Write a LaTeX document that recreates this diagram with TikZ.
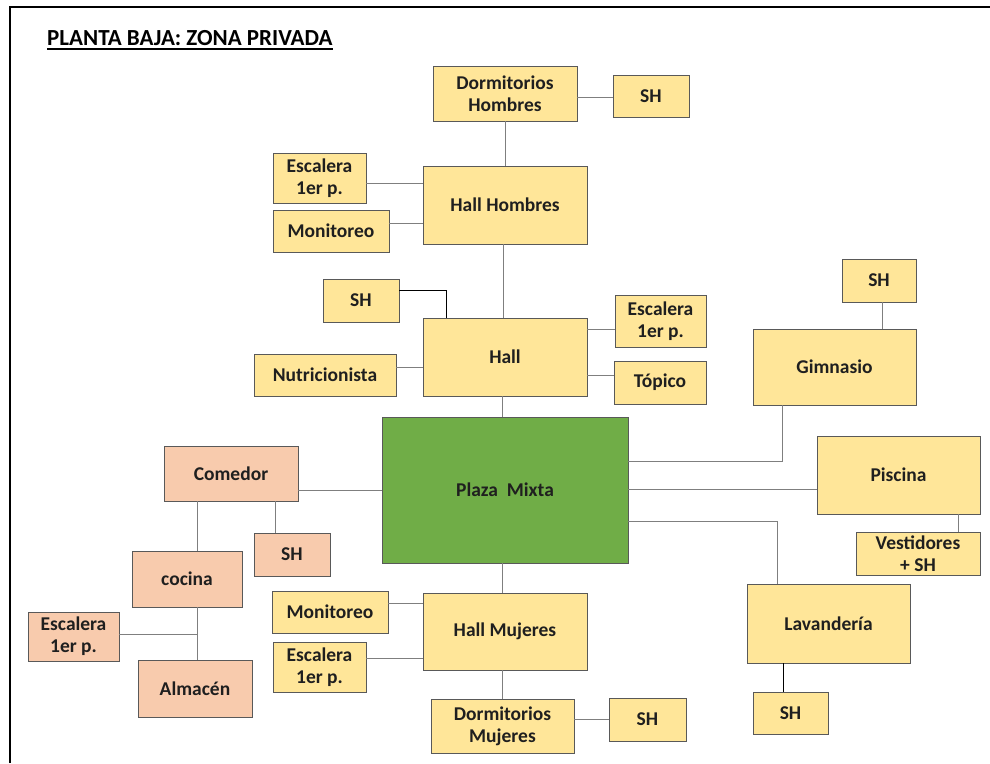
\documentclass[tikz,border=0pt]{standalone}
\usepackage{fontspec}
\setmainfont{Carlito}
\definecolor{boxY}{HTML}{FFE699}
\definecolor{boxS}{HTML}{F8CBAD}
\definecolor{boxG}{HTML}{70AD47}
\definecolor{lineC}{HTML}{7F7F7F}
\definecolor{edgeC}{HTML}{595959}
\definecolor{txtC}{HTML}{1F1F1F}
\tikzset{
  room/.style={draw=edgeC, line width=0.9pt, fill=boxY, inner sep=0pt, align=center,
     text=txtC, font=\fontsize{19.5}{22}\selectfont\bfseries},
  kitchen/.style={room, fill=boxS},
  plazabox/.style={room, fill=boxG},
  link/.style={draw=lineC, line width=1pt},
  darklink/.style={draw=black, line width=1pt},
  frameline/.style={draw=black, line width=2pt}
}
\newcommand{\roombox}[6]{% style, name, cx, cy, w, h ; text follows
  \node[#1, minimum width=#5pt, minimum height=#6pt] (#2) at (#3,#4)}
\begin{document}
\begin{tikzpicture}[x=1pt,y=-1pt]
\useasboundingbox (0,0) rectangle (990,763);
\fill[white] (0,0) rectangle (990,763);
% frame
\draw[frameline] (10,763) -- (10,7) -- (990,7);
% title
\node[anchor=base west, inner sep=0pt, text=black, font=\fontsize{23}{26}\selectfont\bfseries] (title) at (47,45) {PLANTA BAJA: ZONA PRIVADA};
\draw[line width=1.2pt] ([yshift=-4pt]title.base west) -- ([yshift=-4pt]title.base east);

% upper wing
\roombox{room}{dormH}{505}{93.5}{144}{55} {Dormitorios\\Hombres};
\roombox{room}{shH}{651}{96}{76}{42} {SH};
\roombox{room}{hallH}{505}{205}{164}{78} {Hall Hombres};
\roombox{room}{escH}{319.5}{178}{93}{50} {Escalera\\1er p.};
\roombox{room}{monH}{331}{231}{116}{42} {Monitoreo};
\roombox{room}{shHall}{361}{300.5}{76}{43} {SH};
\roombox{room}{hall}{505}{357}{164}{78} {Hall};
\roombox{room}{nutri}{325}{375}{142}{42} {Nutricionista};
\roombox{room}{escHall}{660.5}{321}{91}{52} {Escalera\\1er p.};
\roombox{room}{topico}{660}{382.5}{92}{43} {Tópico};
% plaza
\roombox{plazabox}{plaza}{505}{490}{246}{146} {Plaza\ \ Mixta};
% right wing
\roombox{room}{shGym}{879}{280.5}{74}{43} {SH};
\roombox{room}{gym}{834.5}{367}{163}{76} {Gimnasio};
\roombox{room}{piscina}{898.5}{475}{163}{78} {Piscina};
\roombox{room}{vest}{918}{553.5}{124}{43} {Vestidores\\+ SH};
\roombox{room}{lav}{828.5}{623.5}{163}{79} {Lavandería};
\roombox{room}{shLav}{790.5}{713}{75}{42} {SH};
% left wing (kitchen)
\roombox{kitchen}{comedor}{231}{473.5}{134}{55} {Comedor};
\roombox{kitchen}{shCom}{292}{554.5}{76}{43} {SH};
\roombox{kitchen}{cocina}{187}{579}{110}{56} {cocina};
\roombox{kitchen}{escC}{73.5}{636.5}{91}{49} {Escalera\\1er p.};
\roombox{kitchen}{almacen}{195}{688.5}{114}{57} {Almacén};
% lower wing
\roombox{room}{monM}{330}{612}{116}{42} {Monitoreo};
\roombox{room}{hallM}{505}{631.5}{164}{77} {Hall Mujeres};
\roombox{room}{escM}{319.5}{667}{93}{50} {Escalera\\1er p.};
\roombox{room}{dormM}{502.5}{726}{143}{54} {Dormitorios\\Mujeres};
\roombox{room}{shM}{647.5}{719.5}{77}{43} {SH};

% connectors
\coordinate (jGym) at (782,461);
\coordinate (jLav) at (777,521);
\coordinate (jShHall) at (446,290);
\coordinate (jKit) at (197,634);

\draw[link] (dormH.east |- 0,97) -- (shH.west |- 0,97);
\draw[link] (dormH.south) -- (hallH.north);
\draw[link] (escH.east |- 0,183) -- (hallH.west |- 0,183);
\draw[link] (monH.east |- 0,223) -- (hallH.west |- 0,223);
\draw[link] (hallH.south -| 503,0) -- (hall.north -| 503,0);
\draw[darklink] (shHall.east |- jShHall) -- (jShHall) -- (hall.north -| jShHall);
\draw[link] (nutri.east |- 0,367) -- (hall.west |- 0,367);
\draw[link] (hall.east |- 0,329) -- (escHall.west |- 0,329);
\draw[link] (hall.east |- 0,375) -- (topico.west |- 0,375);
\draw[link] (hall.south -| 502,0) -- (plaza.north -| 502,0);

\draw[link] (shGym.south -| 882,0) -- (gym.north -| 882,0);
\draw[link] (gym.south -| jGym) -- (jGym) -- (plaza.east |- jGym);
\draw[link] (plaza.east |- 0,489) -- (piscina.west |- 0,489);
\draw[link] (piscina.south -| 958,0) -- (vest.north -| 958,0);
\draw[link] (plaza.east |- jLav) -- (jLav) -- (lav.north -| jLav);
\draw[darklink] (lav.south -| 783,0) -- (shLav.north -| 783,0);

\draw[link] (comedor.east |- 0,490) -- (plaza.west |- 0,490);
\draw[link] (comedor.south -| 197,0) -- (cocina.north -| 197,0);
\draw[link] (comedor.south -| 275,0) -- (shCom.north -| 275,0);
\draw[link] (cocina.south -| jKit) -- (almacen.north -| jKit);
\draw[link] (escC.east |- jKit) -- (jKit);

\draw[link] (plaza.south -| 502,0) -- (hallM.north -| 502,0);
\draw[link] (monM.east |- 0,603) -- (hallM.west |- 0,603);
\draw[link] (escM.east |- 0,658) -- (hallM.west |- 0,658);
\draw[link] (hallM.south -| 502,0) -- (dormM.north -| 502,0);
\draw[link] (dormM.east |- 0,719) -- (shM.west |- 0,719);
\end{tikzpicture}
\end{document}
